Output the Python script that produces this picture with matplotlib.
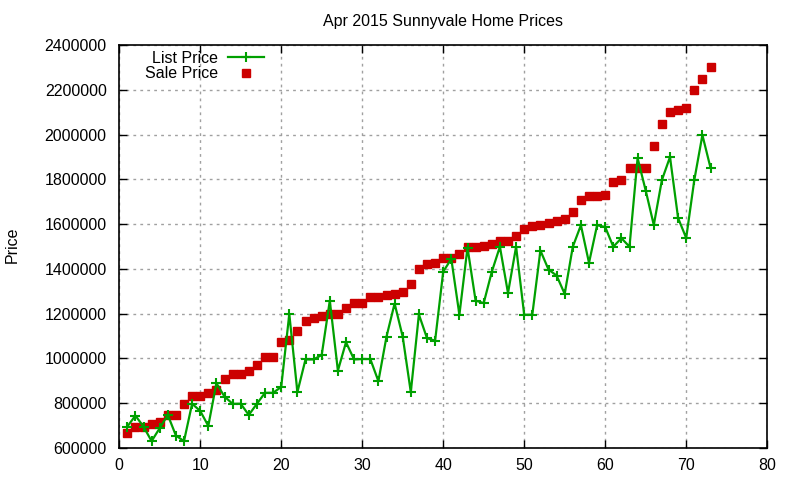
import matplotlib
matplotlib.use("Agg")
import matplotlib.pyplot as plt

plt.rcParams['font.family'] = ['Liberation Sans', 'DejaVu Sans']

idx = list(range(1, 74))

list_price = [695000, 744000, 695000, 630000, 688000, 747000, 655000, 630000, 797000, 765000,
              698000, 889000, 829000, 797000, 797000, 747000, 797000, 846000, 846000, 872000,
              1198000, 849000, 995000, 995000, 1015000, 1258000, 945000, 1072000, 995000, 997000,
              997000, 898000, 1097000, 1245000, 1097000, 849000, 1196000, 1090000, 1079000, 1387000,
              1445000, 1195000, 1495000, 1258000, 1247000, 1387000, 1499000, 1292000, 1499000, 1195000,
              1195000, 1482000, 1397000, 1370000, 1288000, 1499000, 1595000, 1427000, 1595000, 1587000,
              1499000, 1537000, 1499000, 1895000, 1750000, 1596000, 1797000, 1900000, 1627000, 1538000,
              1797000, 1998000, 1852000]

sale_price = [668000, 695000, 695000, 707000, 717000, 747000, 747000, 797000, 832000, 832000,
              844000, 859000, 908000, 930000, 930000, 944000, 971000, 1008000, 1008000, 1075000,
              1081000, 1124000, 1168000, 1180000, 1188000, 1198000, 1198000, 1224000, 1249000, 1249000,
              1276000, 1276000, 1281000, 1288000, 1298000, 1331000, 1400000, 1420000, 1425000, 1450000,
              1450000, 1466000, 1499000, 1499000, 1503000, 1510000, 1525000, 1525000, 1548000, 1580000,
              1590000, 1596000, 1605000, 1615000, 1621000, 1655000, 1708000, 1726000, 1726000, 1730000,
              1789000, 1799000, 1850000, 1850000, 1850000, 1949000, 2048000, 2102000, 2108000, 2118000,
              2199000, 2248000, 2302000]

fig = plt.figure(figsize=(8, 4.8), dpi=100)
ax = fig.add_axes([0.149, 0.067, 0.81, 0.839])

ax.plot(idx, list_price, color='#00a000', lw=1.6, marker='+', ms=7, mew=1.5,
        label='List Price', zorder=3)
ax.plot(idx, sale_price, color='#cc0000', lw=0, marker='s', ms=6,
        label='Sale Price', zorder=2)

ax.set_xlim(0, 80)
ax.set_ylim(600000, 2400000)
ax.set_xticks(range(0, 81, 10))
ax.set_yticks(range(600000, 2400001, 200000))
ax.ticklabel_format(style='plain', axis='y', useOffset=False)
ax.tick_params(direction='in', top=True, right=True, length=6, width=1,
               labelsize=11.5, colors='black')
ax.tick_params(axis='y', pad=9)
ax.tick_params(axis='x', pad=7)
ax.grid(True, linestyle=(0, (2, 3)), color='#a0a0a0', lw=1)
for s in ax.spines.values():
    s.set_linewidth(1.2)

ax.set_title('Apr 2015 Sunnyvale Home Prices', fontsize=11.5, pad=14)
fig.text(0.015, 0.49, 'Price', rotation=90, fontsize=11.5, va='center', ha='center')

leg = ax.legend(loc='upper left', bbox_to_anchor=(0.025, 1.01), frameon=False,
                markerfirst=False, fontsize=11.5, handlelength=2.3,
                labelspacing=0.05, borderaxespad=0.2, handletextpad=0.6)
for t in leg.get_texts():
    t.set_ha('right')

fig.savefig('out.png', dpi=100)
